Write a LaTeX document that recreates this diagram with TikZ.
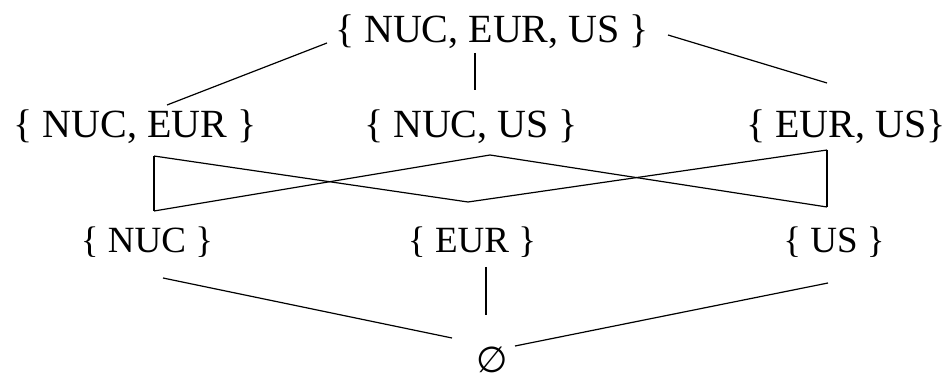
\documentclass[tikz,border=0pt]{standalone}
\usepackage{fontspec}
\setmainfont{Liberation Serif}
\newfontfamily\emptyfont{DejaVu Sans}
\tikzset{setnode/.style = {inner sep = 0pt, anchor = base, font = \fontsize{40}{48}\selectfont}}
\tikzset{singleton/.style = {setnode, font = \fontsize{37}{44}\selectfont}}
\tikzset{edge/.style = {-, line width = 1.2pt}}

\begin{document}
\begin{tikzpicture}[x = 1pt, y = 1pt]
	\useasboundingbox (0, 0) rectangle (951, 383);

	\node[setnode] (nue) at (492, 340) {\{ NUC, EUR, US \}};
	\node[setnode] (ne) at (135, 245) {\{ NUC, EUR \}};
	\node[setnode] (nu) at (471, 245) {\{ NUC, US \}};
	\node[setnode] (eu) at (846, 245) {\{ EUR, US\}};
	\node[singleton] (n) at (147, 130) {\{ NUC \}};
	\node[singleton] (e) at (472, 130) {\{ EUR \}};
	\node[singleton] (u) at (834, 130) {\{ US \}};
	\node[inner sep = 0pt, font = \emptyfont\fontsize{36}{42}\selectfont] (empty) at (492, 23) {∅};

	\draw[edge] ([xshift = -165pt]nue.base) to ([xshift = 32pt, yshift = 33pt]ne.base);
	\draw[edge] ([xshift = -17pt, yshift = -10pt]nue.base) to ([xshift = 4pt, yshift = 48pt]nu.base);
	\draw[edge] ([xshift = 176pt, yshift = 8pt]nue.base) to ([xshift = -19pt, yshift = 55pt]eu.base);

	\draw[edge] ([xshift = 19pt, yshift = -18pt]ne.base) to ([xshift = 7pt, yshift = 42pt]n.base);
	\draw[edge] ([xshift = 19pt, yshift = -18pt]ne.base) to ([xshift = -4pt, yshift = 51pt]e.base);
	\draw[edge] ([xshift = 19pt, yshift = -17pt]nu.base) to ([xshift = 7pt, yshift = 42pt]n.base);
	\draw[edge] ([xshift = 19pt, yshift = -17pt]nu.base) to ([xshift = -7pt, yshift = 46pt]u.base);
	\draw[edge] ([xshift = -19pt, yshift = -12pt]eu.base) to ([xshift = -4pt, yshift = 51pt]e.base);
	\draw[edge] ([xshift = -19pt, yshift = -12pt]eu.base) to ([xshift = -7pt, yshift = 46pt]u.base);

	\draw[edge] ([xshift = 16pt, yshift = -25pt]n.base) to ([xshift = -40pt, yshift = 22pt]empty.center);
	\draw[edge] ([xshift = 14pt, yshift = -14pt]e.base) to ([xshift = -6pt, yshift = 45pt]empty.center);
	\draw[edge] ([xshift = -6pt, yshift = -30pt]u.base) to ([xshift = 23pt, yshift = 14pt]empty.center);
\end{tikzpicture}
\end{document}
